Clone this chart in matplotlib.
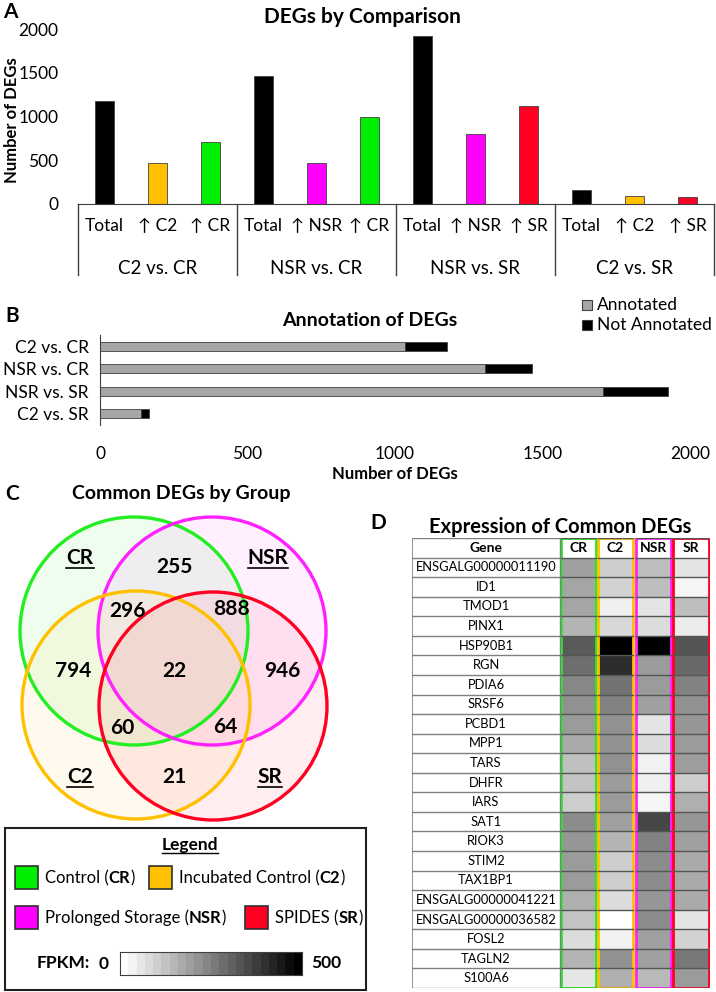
import numpy as np
import matplotlib.pyplot as plt
from matplotlib.patches import Circle, Rectangle
from matplotlib.colors import LinearSegmentedColormap, to_rgba
import matplotlib.transforms as mtransforms

plt.rcParams['font.family'] = ['Lato', 'DejaVu Sans']

W, H = 716, 992

GREEN = "#22ee22"
ORANGE = "#ffc000"
MAGENTA = "#ff22ff"
RED = "#ff0022"

# ---- panel A: DEGs by comparison
comparisons = ["C2 vs. CR", "NSR vs. CR", "NSR vs. SR", "C2 vs. SR"]
bar_labels = ["Total", "↑ C2", "↑ CR",
              "Total", "↑ NSR", "↑ CR",
              "Total", "↑ NSR", "↑ SR",
              "Total", "↑ C2", "↑ SR"]
bar_values = [1175, 465, 710,
              1465, 470, 995,
              1925, 805, 1120,
              165, 90, 75]
bar_colors = ["black", ORANGE, "#00ee00",
              "black", "#ff00ff", "#00ee00",
              "black", "#ff00ff", RED,
              "black", ORANGE, RED]

# ---- panel B: annotation
annotated = [1035, 1305, 1705, 140]
not_annotated = [140, 160, 220, 25]

# ---- panel C: venn counts
venn_counts = ["255", "296", "888", "794", "22", "946", "60", "64", "21"]

# ---- panel D: expression of common DEGs (FPKM)
genes = ["ENSGALG00000011190", "ID1", "TMOD1", "PINX1", "HSP90B1", "RGN",
         "PDIA6", "SRSF6", "PCBD1", "MPP1", "TARS", "DHFR", "IARS", "SAT1",
         "RIOK3", "STIM2", "TAX1BP1", "ENSGALG00000041221",
         "ENSGALG00000036582", "FOSL2", "TAGLN2", "S100A6"]
groups = ["CR", "C2", "NSR", "SR"]
fpkm = np.array([
    [186, 98, 127, 53],
    [176, 88, 127, 20],
    [176, 33, 53, 127],
    [147, 78, 69, 39],
    [324, 500, 500, 333],
    [284, 412, 196, 294],
    [235, 275, 196, 245],
    [216, 245, 186, 216],
    [196, 216, 53, 206],
    [167, 216, 69, 196],
    [124, 216, 29, 192],
    [118, 196, 33, 98],
    [98, 196, 20, 157],
    [225, 186, 363, 206],
    [206, 147, 245, 186],
    [196, 98, 225, 167],
    [196, 98, 225, 167],
    [157, 69, 206, 167],
    [118, 0, 225, 53],
    [69, 29, 186, 88],
    [147, 216, 186, 265],
    [49, 157, 137, 196],
])

cmap = LinearSegmentedColormap.from_list("fpkm", ["white", "black"])

fig = plt.figure(figsize=(W / 100, H / 100), dpi=100)


def px_axes(x0, y0, x1, y1):
    ax = fig.add_axes([x0 / W, 1 - y1 / H, (x1 - x0) / W, (y1 - y0) / H])
    ax.set_facecolor("none")
    return ax


# --------------------------------------------------
# A
# --------------------------------------------------
axA = px_axes(78, 29, 714, 204)
x = np.arange(len(bar_values))
axA.bar(x, bar_values, width=0.34, color=bar_colors, edgecolor="#404040", linewidth=0.6)
axA.set_xlim(-0.5, len(bar_values) - 0.5)
axA.set_ylim(0, 2000)
axA.set_yticks(range(0, 2001, 500))
axA.set_xticks([])
for s in ["top", "right", "left"]:
    axA.spines[s].set_visible(False)
axA.spines["bottom"].set_color("#404040")
axA.tick_params(axis="y", length=0, labelsize=12.5, pad=14)

tr = mtransforms.blended_transform_factory(axA.transData, axA.transAxes)
for i, lab in enumerate(bar_labels):
    axA.text(i, -22 / 175, lab, transform=tr, ha="center", va="center", fontsize=12.5)
for g, name in enumerate(comparisons):
    axA.text(3 * g + 1, -65 / 175, name, transform=tr, ha="center", va="center", fontsize=13.5)
for g in range(len(comparisons) + 1):
    axA.plot([3 * g - 0.5, 3 * g - 0.5], [0, -71 / 175], transform=tr,
             color="#404040", lw=1, clip_on=False)

fig.text(12 / W, 1 - 120 / H, "Number of DEGs", rotation=90, ha="center", va="center",
         fontsize=12, fontweight="bold")
fig.text(362 / W, 1 - 17 / H, "DEGs by Comparison", ha="center", va="center",
         fontsize=15, fontweight="bold")

# --------------------------------------------------
# B
# --------------------------------------------------
axB = px_axes(100, 335, 690, 425)
yb = np.arange(len(comparisons))
axB.barh(yb, annotated, height=0.4, color="#a6a6a6", edgecolor="#404040", linewidth=0.6)
axB.barh(yb, not_annotated, left=annotated, height=0.4, color="black", edgecolor="#404040",
         linewidth=0.6)
axB.set_ylim(len(comparisons) - 0.5, -0.5)
axB.set_yticks(yb)
axB.set_yticklabels(comparisons)
axB.set_xlim(0, 2000)
axB.set_xticks(range(0, 2001, 500))
for s in ["top", "right", "bottom"]:
    axB.spines[s].set_visible(False)
axB.spines["left"].set_color("#404040")
axB.tick_params(axis="both", length=0, labelsize=12.5)
axB.tick_params(axis="x", pad=15)
axB.tick_params(axis="y", pad=8)

fig.text(395 / W, 1 - 474 / H, "Number of DEGs", ha="center", va="center",
         fontsize=12, fontweight="bold")
fig.text(370 / W, 1 - 321 / H, "Annotation of DEGs", ha="center", va="center",
         fontsize=14, fontweight="bold")

# --------------------------------------------------
# overlay: panel letters, venn, legend, table texts
# --------------------------------------------------
ov = fig.add_axes([0, 0, 1, 1])
ov.set_xlim(0, W)
ov.set_ylim(H, 0)
ov.axis("off")
renderer = fig.canvas.get_renderer()

for letter, (lx, ly) in zip("ABCD", [(10, 12), (12, 316), (12, 494), (378, 523)]):
    ov.text(lx, ly, letter, fontsize=15, fontweight="bold", ha="center", va="center")

# B legend
ov.add_patch(Rectangle((582, 300), 10, 10, facecolor="#a6a6a6", edgecolor="#404040", lw=0.8))
ov.add_patch(Rectangle((582, 320), 10, 10, facecolor="black", edgecolor="#404040", lw=0.8))
ov.text(597, 305, "Annotated", fontsize=12.5, va="center", ha="left")
ov.text(597, 325, "Not Annotated", fontsize=12.5, va="center", ha="left")

# C venn
ov.text(181, 494, "Common DEGs by Group", fontsize=14, fontweight="bold", ha="center", va="center")
circles = [((134, 631), GREEN), ((212, 631), MAGENTA), ((136, 705), ORANGE), ((213, 706), RED)]
for (cx, cy), col in circles:
    ov.add_patch(Circle((cx, cy), 114, facecolor=to_rgba(col, 0.07), edgecolor="none"))
for (cx, cy), col in circles:
    ov.add_patch(Circle((cx, cy), 114, facecolor="none", edgecolor=col, lw=2.4))

count_pos = [(174, 567), (127, 611), (232, 609), (73, 671), (174, 671), (282, 671),
             (122, 728), (225, 727), (174, 777)]
for txt, (tx, ty) in zip(venn_counts, count_pos):
    ov.text(tx, ty, txt, fontsize=15, fontweight="bold", ha="center", va="center")

set_pos = [("CR", 80, 558), ("NSR", 268, 558), ("C2", 80, 777), ("SR", 270, 777)]
for name, tx, ty in set_pos:
    t = ov.text(tx, ty, name, fontsize=15, fontweight="bold", ha="center", va="center")
    bb = t.get_window_extent(renderer=renderer)
    ov.plot([tx - bb.width / 2, tx + bb.width / 2], [ty + 10, ty + 10], color="black", lw=1.2)

# legend box
ov.add_patch(Rectangle((5, 828), 361, 162, facecolor="white", edgecolor="#202020", lw=1.5))
t = ov.text(190, 845, "Legend", fontsize=12.5, fontweight="bold", ha="center", va="center")
bb = t.get_window_extent(renderer=renderer)
ov.plot([190 - bb.width / 2, 190 + bb.width / 2], [853, 853], color="black", lw=1)


def rich(x0, y0, parts, size=12):
    for s, bold in parts:
        tt = ov.text(x0, y0, s, fontsize=size, fontweight="bold" if bold else "normal",
                     ha="left", va="center")
        x0 += tt.get_window_extent(renderer=renderer).width


legend_items = [
    (15, 866, "#00ee00", [("Control (", False), ("CR", True), (")", False)]),
    (149, 866, ORANGE, [("Incubated Control (", False), ("C2", True), (")", False)]),
    (15, 906, "#ff00ff", [("Prolonged Storage (", False), ("NSR", True), (")", False)]),
    (245, 906, RED, [("SPIDES (", False), ("SR", True), (")", False)]),
]
for sx, sy, col, parts in legend_items:
    ov.add_patch(Rectangle((sx, sy), 23, 23, facecolor=col, edgecolor="#303030", lw=1.2))
    rich(sx + 30, sy + 12, parts)

ov.text(63, 963, "FPKM:", fontsize=12.5, fontweight="bold", ha="center", va="center")
ov.text(104, 964, "0", fontsize=12.5, fontweight="bold", ha="center", va="center")
ov.text(326, 963, "500", fontsize=12.5, fontweight="bold", ha="center", va="center")

axCb = px_axes(120, 952, 302, 975)
axCb.imshow(np.linspace(0, 500, 22)[None, :], cmap=cmap, vmin=0, vmax=500, aspect="auto")
axCb.set_xticks([])
axCb.set_yticks([])
for s in axCb.spines.values():
    s.set_color("#404040")

# --------------------------------------------------
# D
# --------------------------------------------------
ov.text(560, 527, "Expression of Common DEGs", fontsize=14.5, fontweight="bold",
        ha="center", va="center")

axD = px_axes(412, 538, 710, 988)
axD.set_xlim(412, 710)
axD.set_ylim(len(genes), -1)
axD.axis("off")
col_edges = [(561, 596), (598, 633), (636, 671), (673, 709)]
col_colors = [GREEN, ORANGE, MAGENTA, RED]
rows = np.arange(len(genes) + 1)
for j, (x0, x1) in enumerate(col_edges):
    axD.pcolormesh([x0, x1], rows, fpkm[:, j].reshape(-1, 1), cmap=cmap, vmin=0, vmax=500)
for r in range(-1, len(genes) + 1):
    axD.plot([412, 560], [r, r], color="#7f7f7f", lw=1)
    for x0, x1 in col_edges:
        axD.plot([x0, x1], [r, r], color="#555555", lw=1)
axD.plot([412, 412], [-1, len(genes)], color="#7f7f7f", lw=1.2)
axD.plot([560, 560], [-1, len(genes)], color="#7f7f7f", lw=1)
for (x0, x1), col, g in zip(col_edges, col_colors, groups):
    axD.add_patch(Rectangle((x0, -1), x1 - x0, len(genes) + 1, fill=False,
                            edgecolor=col, lw=2))
    axD.text((x0 + x1) / 2, -0.5, g, fontsize=10, fontweight="bold", ha="center", va="center")
axD.text(486, -0.5, "Gene", fontsize=10, fontweight="bold", ha="center", va="center")
for i, g in enumerate(genes):
    axD.text(486, i + 0.5, g, fontsize=9.3, ha="center", va="center")

fig.savefig("out.png", dpi=100)
